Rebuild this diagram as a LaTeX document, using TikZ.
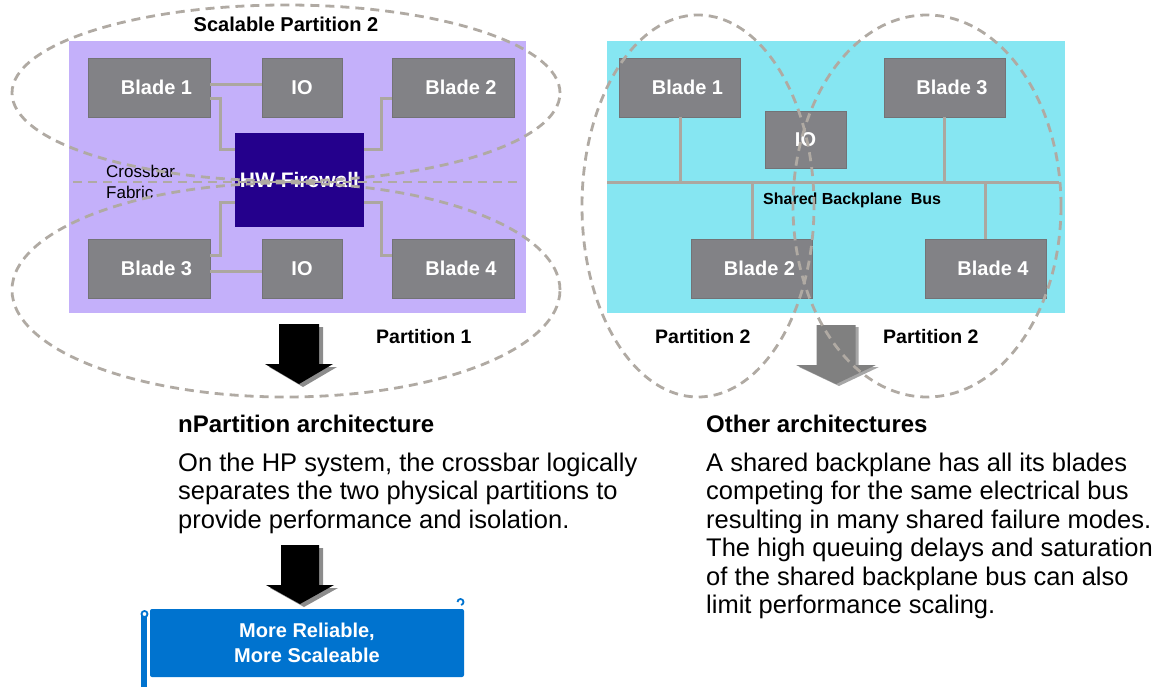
\documentclass[tikz,border=0pt]{standalone}
\usepackage{fontspec}
\setmainfont{Liberation Sans}
\definecolor{fabric}{RGB}{196,176,250}
\definecolor{backplane}{RGB}{134,230,242}
\definecolor{bladegray}{RGB}{130,130,134}
\definecolor{bladeedge}{RGB}{115,115,118}
\definecolor{fwblue}{RGB}{36,0,140}
\definecolor{wire}{RGB}{172,167,160}
\definecolor{dashgray}{RGB}{176,170,163}
\definecolor{bannerblue}{RGB}{0,115,207}
\definecolor{arrowgray}{RGB}{128,128,128}
\tikzset{
  unit/.style={draw=bladeedge, line width=0.8pt, fill=bladegray, inner sep=0pt,
    minimum height=59pt, text=white, font=\bfseries\fontsize{20}{22}\selectfont},
  blade/.style={unit, minimum width=#1, execute at begin node=\hspace*{15pt}},
  blade/.default=122pt,
  iobox/.style={unit, minimum width=80pt},
  wire/.style={draw=wire, line width=3pt},
  partition/.style={draw=dashgray, line width=2.8pt, dash pattern=on 9pt off 6pt},
  lbl/.style={inner sep=0pt, anchor=base west},
  caption/.style={lbl, font=\bfseries\fontsize{19.5}{22}\selectfont},
  heading/.style={lbl, font=\bfseries\fontsize{24}{28}\selectfont},
  bodytext/.style={lbl, font=\fontsize{25.5}{28.5}\selectfont},
  pics/downarrow/.style args={#1/#2/#3/#4}{
    code={\path[pic actions] (-#1,0) -- (#1,0) -- (#1,#3) -- (#2,#3) -- (0,{#3+#4})
      -- (-#2,#3) -- (-#1,#3) -- cycle;}
  }
}
\begin{document}
\begin{tikzpicture}[x=1pt,y=-1pt]
\useasboundingbox (0,0) rectangle (1176,687);

% ---------- crossbar system ----------
\fill[fabric] (69,41) rectangle (526,313);
\node[blade] (lb1) at (149,87.5) {Blade 1};
\node[iobox] (lio1) at (302,87.5) {IO};
\node[blade] (lb2) at (453.5,87.5) {Blade 2};
\node[blade] (lb3) at (149,268.5) {Blade 3};
\node[iobox] (lio2) at (302,268.5) {IO};
\node[blade] (lb4) at (453.5,268.5) {Blade 4};
\node[fill=fwblue, minimum width=129pt, minimum height=94pt, inner sep=0pt,
      text=white, font=\bfseries\fontsize{21}{24}\selectfont] (fw) at (299.5,180) {HW Firewall};

\draw[wire] ([yshift=2.5pt]lb1.east) -- ([yshift=2.5pt]lio1.west);
\draw[wire] ([yshift=-3.5pt]lb3.east) -- ([yshift=-3.5pt]lio2.west);
\draw[wire] ([yshift=-11.5pt]lb1.east) -- ++(10,0) |- ([yshift=30pt]fw.west);
\draw[wire] ([yshift=12.5pt]lb3.east) -- ++(10,0) |- ([yshift=-23pt]fw.west);
\draw[wire] ([yshift=-11.5pt]lb2.west) -- ++(-11,0) |- ([yshift=30pt]fw.east);
\draw[wire] ([yshift=12.5pt]lb4.west) -- ++(-11,0) |- ([yshift=-23pt]fw.east);

\node[caption, anchor=base, font=\bfseries\fontsize{20}{22}\selectfont] (scal) at (286,32) {Scalable Partition 2};
\node[lbl, font=\fontsize{17}{21}\selectfont] (xbar1) at (106,178) {Crossbar};
\node[lbl, font=\fontsize{17}{21}\selectfont] (xbar2) at (106,199) {Fabric};
\node[caption] (p1) at (376,343) {Partition 1};

% ---------- shared backplane system ----------
\fill[backplane] (607,41) rectangle (1065,313);
\node[blade=121pt] (rb1) at (680,87.5) {Blade 1};
\node[blade=121pt] (rb3) at (944.5,87.5) {Blade 3};
\node[iobox, minimum width=81pt, minimum height=57pt] (rio) at (805.5,139.5) {IO};
\node[blade=121pt] (rb2) at (752,268.5) {Blade 2};
\node[blade=121pt] (rb4) at (985.5,268.5) {Blade 4};

\coordinate (busL) at (607,183);
\coordinate (busR) at (1059,183);
\draw[wire] (busL) -- (busR);
\draw[wire] (rb1.south) -- (rb1.south |- busL);
\draw[wire] (rb3.south) -- (rb3.south |- busL);
\draw[wire] (rb2.north) -- (rb2.north |- busL);
\draw[wire] (rb4.north) -- (rb4.north |- busL);
\node[lbl, font=\bfseries\fontsize{16}{20}\selectfont] (busname) at (763,205) {Shared Backplane\ \ Bus};

\node[caption] (p2a) at (655,343) {Partition 2};
\node[caption] (p2b) at (883,343) {Partition 2};

% ---------- block arrows ----------
\pic[fill=black!45] at (303,327) {downarrow=20/34/40/20};
\pic[fill=black] at (299,324) {downarrow=20/34/40/20};
\pic[fill=black!45] at (304,548) {downarrow=19/34/40/19};
\pic[fill=black] at (300,545) {downarrow=19/34/40/19};
\pic[fill=arrowgray!70] at (839,327) {downarrow=19.5/40/40/19};
\pic[fill=arrowgray] at (836,325) {downarrow=19.5/40/40/19};

% ---------- banner ----------
\fill[bannerblue] (141,613) rectangle (147,687);
\node[fill=bannerblue, rounded corners=2pt, minimum width=314pt, minimum height=68pt,
      inner sep=0pt, align=center, text=white,
      font=\bfseries\fontsize{20}{25}\selectfont] (banner) at (307,643)
      {More Reliable,\\More Scaleable};
\draw[bannerblue, line width=1.8pt, fill=white] (144.5,614) circle[radius=3pt];
\draw[bannerblue, line width=1.8pt] (457.5,602) arc[start angle=180, end angle=-80, radius=3pt];

% ---------- descriptions ----------
\node[heading] (h1) at (178,432) {nPartition architecture};
\foreach \t [count=\i from 0] in {{On the HP system, the crossbar logically},
    {separates the two physical partitions to},{provide performance and isolation.}}
  \node[bodytext] (np\i) at (178,{471+28.5*\i}) {\t};

\node[heading] (h2) at (706,432) {Other architectures};
\foreach \t [count=\i from 0] in {{A shared backplane has all its blades},
    {competing for the same electrical bus},{resulting in many shared failure modes.},
    {The high queuing delays and saturation},{of the shared backplane bus can also},
    {limit performance scaling.}}
  \node[bodytext] (oa\i) at (706,{471+28.5*\i}) {\t};

% ---------- partition outlines ----------
\draw[partition] (286,93) ellipse [x radius=274pt, y radius=88pt];
\draw[partition] (286,290) ellipse [x radius=274pt, y radius=107pt];
\draw[partition] (73,182) -- (522,182);
\draw[partition] (698,206) ellipse [x radius=116pt, y radius=191pt];
\draw[partition] (927,206) ellipse [x radius=134pt, y radius=191pt];
\end{tikzpicture}
\end{document}
